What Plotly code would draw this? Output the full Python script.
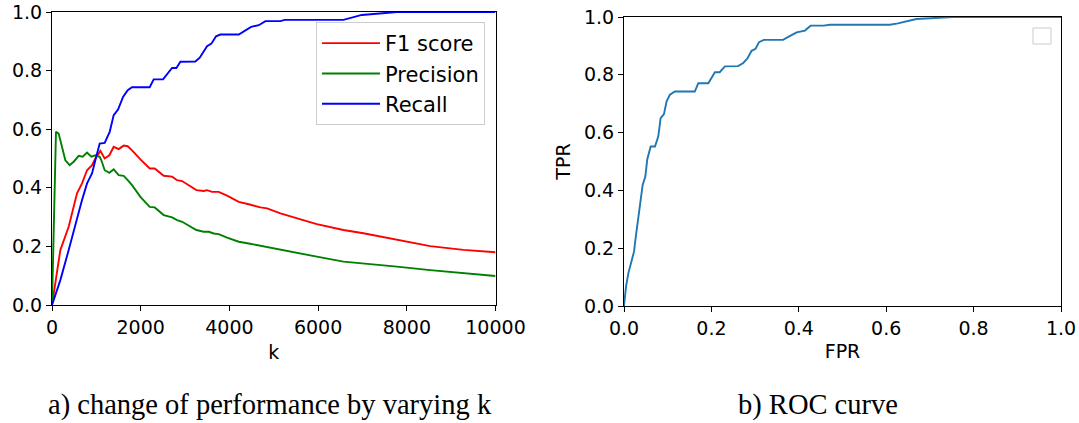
import plotly.graph_objects as go

# ---- data: performance vs k ----
recall_k = [0, 188, 376, 564, 677, 790, 902, 977, 1075, 1188, 1301, 1391, 1489, 1602, 1707, 1805,
            2203, 2293, 2504, 2707, 2805, 2895, 3233, 3331, 3496, 3594, 3699, 3797, 4211, 4489,
            4662, 4812, 5150, 5248, 5602, 6571, 6986, 7776, 10000]
recall = [0.0, 0.085, 0.1875, 0.30, 0.358, 0.415, 0.449, 0.494, 0.551, 0.553, 0.591, 0.648, 0.667,
          0.710, 0.733, 0.743, 0.743, 0.770, 0.770, 0.809, 0.809, 0.830, 0.831, 0.844, 0.883, 0.892,
          0.917, 0.923, 0.923, 0.949, 0.955, 0.969, 0.969, 0.973, 0.973, 0.973, 0.99, 1.0, 1.0]

f1_k = [0, 188, 376, 564, 677, 790, 902, 977, 1090, 1188, 1293, 1391, 1504, 1617, 1707, 1805, 1993,
        2203, 2316, 2519, 2707, 2820, 2933, 3256, 3421, 3496, 3609, 3759, 3947, 4211, 4436, 4699,
        4850, 5150, 5971, 6571, 7022, 7776, 8527, 9278, 10000]
f1 = [0.0, 0.1875, 0.267, 0.381, 0.415, 0.460, 0.477, 0.50, 0.526, 0.50, 0.511, 0.540, 0.532, 0.544,
      0.542, 0.528, 0.497, 0.466, 0.466, 0.441, 0.438, 0.426, 0.423, 0.392, 0.389, 0.392, 0.386,
      0.386, 0.373, 0.352, 0.344, 0.333, 0.330, 0.313, 0.276, 0.256, 0.245, 0.222, 0.201, 0.188, 0.180]

prec_k = [0, 90, 150, 203, 301, 398, 489, 602, 692, 790, 887, 977, 1075, 1113, 1188, 1293, 1391,
          1504, 1617, 1707, 1805, 1993, 2203, 2316, 2519, 2707, 2820, 2933, 3256, 3421, 3534, 3647,
          3759, 3947, 4211, 4436, 4699, 4850, 5150, 5971, 6571, 7022, 7776, 8527, 9278, 10000]
precision = [0.0, 0.591, 0.585, 0.551, 0.494, 0.477, 0.489, 0.509, 0.506, 0.520, 0.506, 0.511, 0.506,
             0.494, 0.460, 0.451, 0.463, 0.443, 0.441, 0.426, 0.409, 0.369, 0.335, 0.333, 0.307,
             0.299, 0.290, 0.284, 0.256, 0.250, 0.250, 0.244, 0.242, 0.230, 0.216, 0.210, 0.202,
             0.199, 0.188, 0.165, 0.148, 0.142, 0.131, 0.119, 0.108, 0.099]

# ---- data: ROC curve ----
fpr = [0.0, 0.0046, 0.0099, 0.015, 0.0229, 0.027, 0.033, 0.038, 0.0427, 0.0488, 0.0533, 0.061,
       0.0709, 0.0785, 0.0838, 0.0914, 0.0975, 0.105, 0.1166, 0.162, 0.170, 0.193, 0.208, 0.219,
       0.231, 0.261, 0.273, 0.283, 0.292, 0.301, 0.309, 0.320, 0.364, 0.376, 0.395, 0.414, 0.427,
       0.457, 0.471, 0.608, 0.627, 0.669, 0.722, 0.752, 1.0]
tpr = [0.0, 0.067, 0.113, 0.142, 0.188, 0.240, 0.309, 0.356, 0.419, 0.448, 0.508, 0.552, 0.552,
       0.587, 0.650, 0.664, 0.708, 0.731, 0.742, 0.742, 0.771, 0.771, 0.809, 0.809, 0.829, 0.830,
       0.841, 0.858, 0.883, 0.890, 0.913, 0.921, 0.921, 0.931, 0.947, 0.953, 0.970, 0.970, 0.973,
       0.973, 0.978, 0.993, 0.999, 1.0, 1.0]

k_ticks = [0, 2000, 4000, 6000, 8000, 10000]
k_tick_labels = ["0", "2000", "4000", "6000", "8000", "10000"]
unit_ticks = [0.0, 0.2, 0.4, 0.6, 0.8, 1.0]
unit_tick_labels = ["0.0", "0.2", "0.4", "0.6", "0.8", "1.0"]

W, H = 1079, 423
TICKFONT = dict(family="DejaVu Sans", size=19, color="black")
LW = 1.9

fig = go.Figure()
fig.add_trace(go.Scatter(x=f1_k, y=f1, mode="lines", name="F1 score", legendgroup="a",
                         line=dict(color="red", width=LW), xaxis="x", yaxis="y"))
fig.add_trace(go.Scatter(x=prec_k, y=precision, mode="lines", name="Precision", legendgroup="b",
                         line=dict(color="green", width=LW), xaxis="x", yaxis="y"))
fig.add_trace(go.Scatter(x=recall_k, y=recall, mode="lines", name="Recall", legendgroup="c",
                         line=dict(color="blue", width=LW), xaxis="x", yaxis="y"))
fig.add_trace(go.Scatter(x=fpr, y=tpr, mode="lines", showlegend=False,
                         line=dict(color="#1f77b4", width=LW), xaxis="x2", yaxis="y2"))

axis_common = dict(showline=True, mirror=True, linecolor="black", linewidth=1,
                   ticks="outside", ticklen=5, tickcolor="black", tickwidth=1,
                   showgrid=False, zeroline=False, tickfont=TICKFONT, automargin=False)

fig.update_layout(
    width=W, height=H,
    margin=dict(l=0, r=0, t=0, b=0, autoexpand=False),
    paper_bgcolor="white", plot_bgcolor="white",
    xaxis=dict(domain=[52 / W, 495.5 / W], range=[0, 10000], tickvals=k_ticks, ticktext=k_tick_labels,
               title=dict(text="k", font=TICKFONT, standoff=8), anchor="y", **axis_common),
    yaxis=dict(domain=[1 - 305 / H, 1 - 12 / H], range=[0, 1], tickvals=unit_ticks,
               ticktext=unit_tick_labels, anchor="x", **axis_common),
    xaxis2=dict(domain=[624 / W, 1061 / W], range=[0, 1], tickvals=unit_ticks, ticktext=unit_tick_labels,
                title=dict(text="FPR", font=TICKFONT, standoff=6), anchor="y2", **axis_common),
    yaxis2=dict(domain=[1 - 306 / H, 1 - 17 / H], range=[0, 1], tickvals=unit_ticks,
                ticktext=unit_tick_labels, title=dict(text="TPR", font=TICKFONT, standoff=8),
                anchor="x2", **axis_common),
    legend=dict(x=485 / W, y=1 - 22 / H, xanchor="right", yanchor="top",
                bordercolor="#cccccc", borderwidth=1, bgcolor="rgba(255,255,255,0.8)",
                font=dict(family="DejaVu Sans", size=21, color="black"),
                tracegroupgap=0, itemwidth=58),
    showlegend=True,
)

# empty legend box on the ROC panel
fig.add_shape(type="rect", xref="paper", yref="paper",
              x0=1033 / W, x1=1051 / W, y0=1 - 44 / H, y1=1 - 28 / H,
              line=dict(color="#cccccc", width=1), fillcolor="white")

CAPFONT = dict(family="Liberation Serif", size=28.5, color="black")
fig.add_annotation(text="a) change of performance by varying k", xref="paper", yref="paper",
                   x=270 / W, y=1 - 405 / H, xanchor="center", yanchor="middle",
                   showarrow=False, font=CAPFONT)
fig.add_annotation(text="b) ROC curve", xref="paper", yref="paper",
                   x=818 / W, y=1 - 405 / H, xanchor="center", yanchor="middle",
                   showarrow=False, font=CAPFONT)

fig.write_html("out.html")
